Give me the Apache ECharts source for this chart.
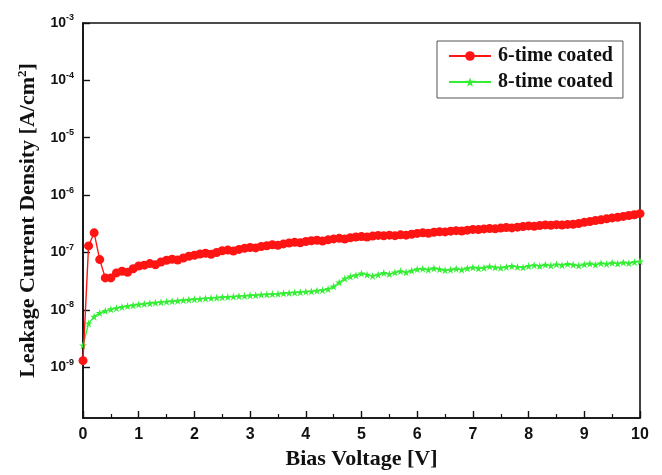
<!DOCTYPE html>
<html>
<head>
<meta charset="utf-8">
<script src="https://cdn.jsdelivr.net/npm/echarts@6/dist/echarts.min.js"></script>
<style>
  html, body { margin: 0; padding: 0; background: #fff; }
  #chart { width: 662px; height: 475px; }
</style>
</head>
<body>
<div id="chart"></div>
<script>
// Bias voltage sweep, 0 V to 10 V in 0.1 V steps
const voltages = [
  0.0, 0.1, 0.2, 0.3, 0.4, 0.5, 0.6, 0.7, 0.8, 0.9,
  1.0, 1.1, 1.2, 1.3, 1.4, 1.5, 1.6, 1.7, 1.8, 1.9,
  2.0, 2.1, 2.2, 2.3, 2.4, 2.5, 2.6, 2.7, 2.8, 2.9,
  3.0, 3.1, 3.2, 3.3, 3.4, 3.5, 3.6, 3.7, 3.8, 3.9,
  4.0, 4.1, 4.2, 4.3, 4.4, 4.5, 4.6, 4.7, 4.8, 4.9,
  5.0, 5.1, 5.2, 5.3, 5.4, 5.5, 5.6, 5.7, 5.8, 5.9,
  6.0, 6.1, 6.2, 6.3, 6.4, 6.5, 6.6, 6.7, 6.8, 6.9,
  7.0, 7.1, 7.2, 7.3, 7.4, 7.5, 7.6, 7.7, 7.8, 7.9,
  8.0, 8.1, 8.2, 8.3, 8.4, 8.5, 8.6, 8.7, 8.8, 8.9,
  9.0, 9.1, 9.2, 9.3, 9.4, 9.5, 9.6, 9.7, 9.8, 9.9,
  10.0
];

// Leakage current density [A/cm^2], 6-time coated film
const coated6 = [
  1.3e-9, 1.3e-7, 2.2e-7, 7.5e-8, 3.6e-8, 3.6e-8, 4.4e-8, 4.7e-8, 4.5e-8, 5.2e-8,
  5.8e-8, 6.0e-8, 6.4e-8, 6.1e-8, 6.8e-8, 7.3e-8, 7.6e-8, 7.4e-8, 8.0e-8, 8.6e-8,
  8.9e-8, 9.4e-8, 9.7e-8, 9.3e-8, 1.0e-7, 1.07e-7, 1.1e-7, 1.06e-7, 1.13e-7, 1.18e-7,
  1.22e-7, 1.2e-7, 1.27e-7, 1.31e-7, 1.36e-7, 1.33e-7, 1.41e-7, 1.46e-7, 1.5e-7, 1.47e-7,
  1.55e-7, 1.6e-7, 1.63e-7, 1.58e-7, 1.66e-7, 1.72e-7, 1.76e-7, 1.71e-7, 1.8e-7, 1.86e-7,
  1.9e-7, 1.85e-7, 1.93e-7, 1.98e-7, 1.95e-7, 2.0e-7, 1.96e-7, 2.03e-7, 2.0e-7, 2.08e-7,
  2.15e-7, 2.2e-7, 2.16e-7, 2.25e-7, 2.3e-7, 2.28e-7, 2.35e-7, 2.4e-7, 2.36e-7, 2.45e-7,
  2.52e-7, 2.5e-7, 2.57e-7, 2.62e-7, 2.58e-7, 2.66e-7, 2.72e-7, 2.68e-7, 2.76e-7, 2.82e-7,
  2.9e-7, 2.85e-7, 2.95e-7, 3.02e-7, 2.98e-7, 3.05e-7, 3.0e-7, 3.08e-7, 3.1e-7, 3.2e-7,
  3.35e-7, 3.45e-7, 3.6e-7, 3.7e-7, 3.85e-7, 4.0e-7, 4.1e-7, 4.25e-7, 4.4e-7, 4.55e-7,
  4.75e-7
];

// Leakage current density [A/cm^2], 8-time coated film
const coated8 = [
  2.4e-9, 5.8e-9, 7.6e-9, 8.8e-9, 9.6e-9, 1.02e-8, 1.07e-8, 1.12e-8, 1.16e-8, 1.2e-8,
  1.24e-8, 1.27e-8, 1.3e-8, 1.33e-8, 1.36e-8, 1.39e-8, 1.41e-8, 1.44e-8, 1.47e-8, 1.5e-8,
  1.53e-8, 1.55e-8, 1.58e-8, 1.6e-8, 1.63e-8, 1.66e-8, 1.68e-8, 1.7e-8, 1.73e-8, 1.75e-8,
  1.78e-8, 1.8e-8, 1.83e-8, 1.86e-8, 1.88e-8, 1.9e-8, 1.94e-8, 1.97e-8, 2.0e-8, 2.03e-8,
  2.07e-8, 2.1e-8, 2.15e-8, 2.2e-8, 2.3e-8, 2.55e-8, 3.0e-8, 3.5e-8, 3.8e-8, 4.0e-8,
  4.3e-8, 4.1e-8, 3.9e-8, 4.1e-8, 4.4e-8, 4.2e-8, 4.5e-8, 4.7e-8, 4.5e-8, 4.8e-8,
  5.1e-8, 5.2e-8, 5.0e-8, 5.3e-8, 5.1e-8, 4.9e-8, 5.0e-8, 5.2e-8, 5.0e-8, 5.3e-8,
  5.5e-8, 5.3e-8, 5.4e-8, 5.7e-8, 5.5e-8, 5.4e-8, 5.6e-8, 5.8e-8, 5.6e-8, 5.5e-8,
  5.8e-8, 6.0e-8, 5.8e-8, 6.1e-8, 5.9e-8, 6.2e-8, 6.0e-8, 6.3e-8, 6.1e-8, 5.9e-8,
  6.2e-8, 6.4e-8, 6.1e-8, 6.5e-8, 6.3e-8, 6.6e-8, 6.4e-8, 6.7e-8, 6.5e-8, 6.8e-8,
  7.0e-8
];

const seriesNames = ['6-time coated', '8-time coated'];
const xTickLabels = ['0', '1', '2', '3', '4', '5', '6', '7', '8', '9', '10'];

// five-pointed star marker for the 8-time coated curve
const STAR = 'path://M50,0 L61.8,35.4 L100,35.4 L69.1,57.3 L80.9,92.7 L50,70.8 L19.1,92.7 L30.9,57.3 L0,35.4 L38.2,35.4 Z';

const pairs = (ys) => voltages.map((v, i) => [v, ys[i]]);

const chart = echarts.init(document.getElementById('chart'), null, { renderer: 'canvas' });

chart.setOption({
  backgroundColor: '#ffffff',
  animation: false,
  grid: {
    left: 83, right: 22, top: 23, bottom: 53,
    show: true, borderColor: '#111', borderWidth: 1.6,
    backgroundColor: 'transparent'
  },
  legend: {
    data: seriesNames,
    orient: 'vertical',
    left: 437, top: 41,
    padding: [5, 10, 6, 11],
    itemWidth: 42, itemHeight: 12, itemGap: 6,
    borderColor: '#555', borderWidth: 1,
    backgroundColor: '#fff',
    textStyle: {
      fontFamily: 'Liberation Serif', fontWeight: 'bold', fontSize: 20, lineHeight: 20, color: '#111',
      padding: [0, 0, 0, 2]
    }
  },
  xAxis: {
    type: 'value', min: 0, max: 10, interval: 1,
    name: 'Bias Voltage [V]', nameLocation: 'middle', nameGap: 30,
    nameTextStyle: { fontFamily: 'Liberation Serif', fontWeight: 'bold', fontSize: 22, color: '#111' },
    axisLine: { lineStyle: { color: '#111', width: 1.6 } },
    axisTick: { inside: true, length: 7, lineStyle: { color: '#111', width: 1.4 } },
    minorTick: { show: true, splitNumber: 2, length: 4, lineStyle: { color: '#111', width: 1.2 } },
    splitLine: { show: false },
    axisLabel: {
      margin: 9,
      fontFamily: 'Liberation Sans', fontWeight: 'bold', fontSize: 16, color: '#111',
      formatter: (v) => xTickLabels[Math.round(v)] ?? ''
    }
  },
  yAxis: {
    type: 'log', logBase: 10, min: 1.3e-10, max: 1e-3,
    name: '{t|Leakage Current Density [A/cm}{s|2}{t|]}',
    nameLocation: 'middle', nameGap: 40,
    nameTextStyle: {
      rich: {
        t: { fontFamily: 'Liberation Serif', fontWeight: 'bold', fontSize: 22, color: '#111' },
        s: { fontFamily: 'Liberation Serif', fontWeight: 'bold', fontSize: 13, color: '#111', padding: [0, 0, 11, 0] }
      }
    },
    axisLine: { lineStyle: { color: '#111', width: 1.6 } },
    axisTick: { inside: true, length: 7, lineStyle: { color: '#111', width: 1.4 } },
    minorTick: { show: false },
    splitLine: { show: false },
    axisLabel: {
      showMinLabel: false,
      margin: 9,
      formatter: (v) => {
        const e = Math.log10(v);
        if (Math.abs(e - Math.round(e)) > 1e-6) return '';
        return '{b|10}{s|' + Math.round(e) + '}';
      },
      rich: {
        b: { fontFamily: 'Liberation Sans', fontWeight: 'bold', fontSize: 14, color: '#111' },
        s: { fontFamily: 'Liberation Sans', fontWeight: 'bold', fontSize: 9, color: '#111', padding: [0, 0, 10, 0] }
      }
    }
  },
  series: [
    {
      name: seriesNames[0], type: 'line', data: pairs(coated6),
      symbol: 'circle', symbolSize: 9,
      itemStyle: { color: '#ff1414' },
      lineStyle: { color: '#ff1414', width: 1.4 },
      z: 3
    },
    {
      name: seriesNames[1], type: 'line', data: pairs(coated8),
      symbol: STAR, symbolSize: 8,
      itemStyle: { color: '#33ee33' },
      lineStyle: { color: '#33ee33', width: 1.4 },
      z: 2
    }
  ]
});
</script>
</body>
</html>
